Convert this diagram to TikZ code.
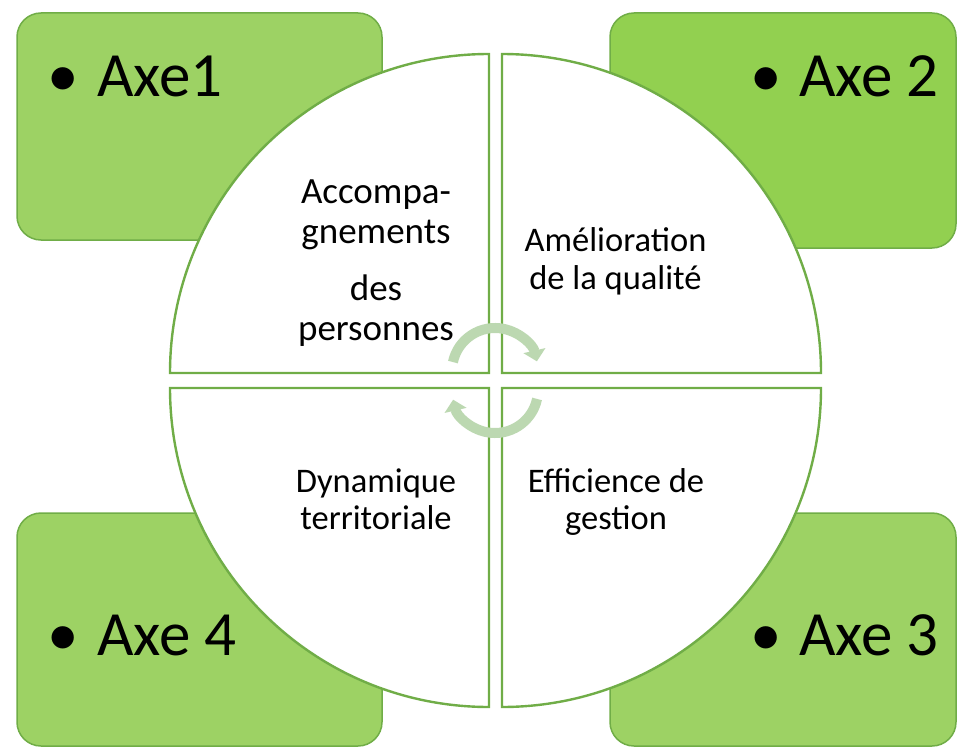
\documentclass[tikz,border=0pt]{standalone}
\usepackage{fontspec}
\setmainfont{Carlito}
\usetikzlibrary{arrows.meta}
\definecolor{boxA}{HTML}{9DD264}
\definecolor{boxB}{HTML}{92D050}
\definecolor{edgegreen}{HTML}{70AD47}
\definecolor{arrgreen}{HTML}{BCD8B1}
\begin{document}
\begin{tikzpicture}[x=1pt,y=-1pt,
  axebox/.style={draw=edgegreen, line width=1.5pt, rounded corners=24pt},
  quad/.style={draw=edgegreen, fill=white, line width=2.4pt},
  axetxt/.style={inner sep=0pt, anchor=base west, font=\fontsize{63}{70}\selectfont},
  bul/.style={inner sep=0pt, anchor=base, font=\fontsize{63}{70}\selectfont},
  qtxt/.style={inner sep=0pt, anchor=base, align=center, font=\fontsize{34.5}{37.5}\selectfont},
  cyc/.style={draw=arrgreen, line width=10pt, -{Triangle[length=11pt,width=22pt]}}
]
\useasboundingbox (0,0) rectangle (957,746);
% corner boxes
\draw[axebox, fill=boxA] (17,13) rectangle (382,240);
\draw[axebox, fill=boxB] (610,13) rectangle (956,248);
\draw[axebox, fill=boxA] (17,513) rectangle (382,746);
\draw[axebox, fill=boxA] (610,513) rectangle (956,746);
% box texts
\node[bul] (b1) at (63.5,97) {•};
\node[axetxt] (t1) at (97,97) {Axe1};
\node[bul] (b2) at (766,97) {•};
\node[axetxt] (t2) at (799,97) {Axe 2};
\node[bul] (b3) at (766,655) {•};
\node[axetxt] (t3) at (799,655) {Axe 3};
\node[bul] (b4) at (63.5,655) {•};
\node[axetxt] (t4) at (97,655) {Axe 4};
% quadrants
\draw[quad] (489,373) -- (170,373) arc[start angle=180, end angle=270, radius=319] -- cycle;
\draw[quad] (502,373) -- (502,54) arc[start angle=270, end angle=360, radius=319] -- cycle;
\draw[quad] (489,388) -- (170,388) arc[start angle=180, end angle=90, radius=319] -- cycle;
\draw[quad] (502,388) -- (821,388) arc[start angle=0, end angle=90, radius=319] -- cycle;
% quadrant texts (anchor base = baseline of the last line)
\node[qtxt, font=\fontsize{37}{40}\selectfont] (q1) at (376,340) {Accompa-\\gnements\\[17pt]des\\personnes};
\node[qtxt] (q2) at (615.5,289) {Amélioration\\de la qualité};
\node[qtxt] (q3) at (376,529.5) {Dynamique\\territoriale};
\node[qtxt] (q4) at (616,529.5) {Efficience de\\gestion};
% cycle arrows
\coordinate (c1) at (495,371);
\coordinate (c2) at (495,390);
\draw[cyc] (c1) ++(192:43) arc[start angle=192, end angle=347, radius=43];
\draw[cyc] (c2) ++(12:43) arc[start angle=12, end angle=167, radius=43];
\end{tikzpicture}
\end{document}
